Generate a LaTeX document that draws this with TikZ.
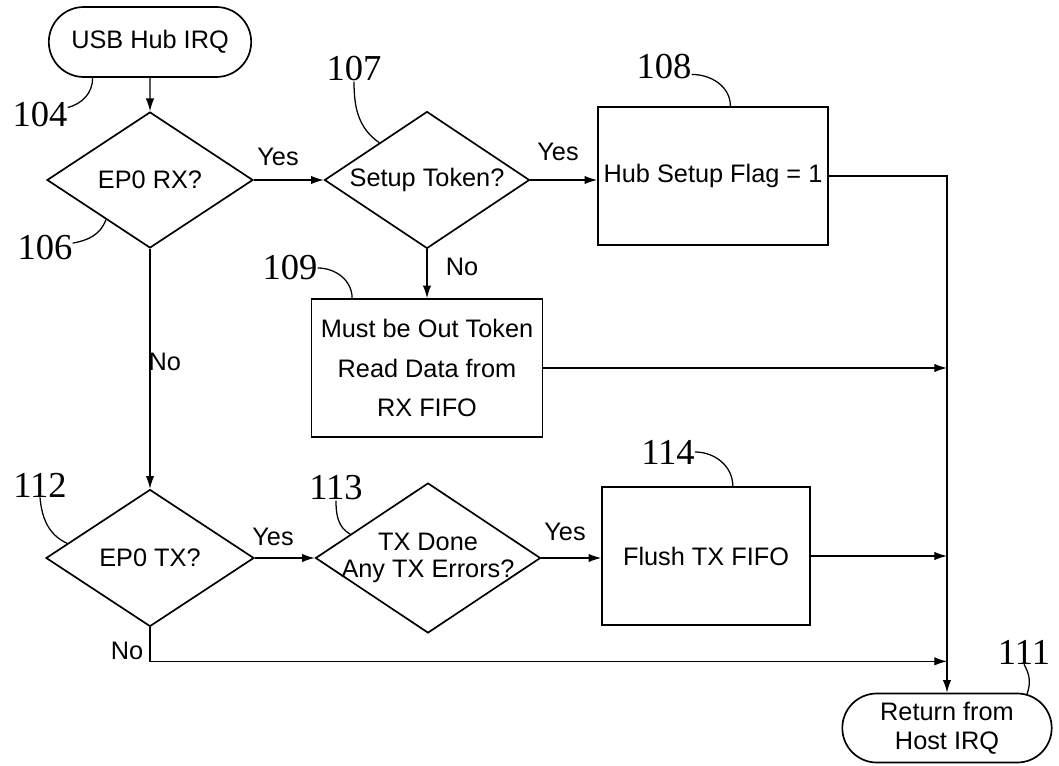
\documentclass[tikz,border=0pt]{standalone}
\usepackage{fontspec}
\setmainfont{Liberation Sans}
\newfontfamily\refnumfont{Liberation Serif}
\usetikzlibrary{shapes.geometric,shapes.misc,arrows.meta}

\begin{document}
\begin{tikzpicture}[scale=1.0, >={Latex[length=9pt,width=6pt]},
        every node/.style={font=\fontsize{18}{22}\selectfont},
        decision/.style={diamond, draw, line width=1.2pt, shape aspect=1.5, inner sep=0pt, align=center},
        process/.style={rectangle, draw, line width=1.2pt, inner sep=2pt, align=center},
        terminal/.style={rounded rectangle, draw, line width=1.2pt, inner sep=2pt, align=center},
        refnum/.style={font=\refnumfont\fontsize{26}{30}\selectfont, inner sep=0pt},
        flow/.style={line width=0.9pt},
        leader/.style={line width=0.9pt}]
        % Marco de la figura
        \useasboundingbox (0,0) rectangle (26.475,19.125);

        % Bloques del diagrama
        \node[terminal, minimum width=5.2cm, minimum height=1.75cm] (start) at (3.75,18.075) {USB Hub IRQ};
        \node[decision, minimum width=5.15cm, minimum height=3.4cm] (rx) at (3.75,14.625) {EP0 RX?};
        \node[decision, minimum width=5.125cm, minimum height=3.425cm] (setup) at (10.675,14.625) {Setup Token?};
        \node[process, minimum width=5.75cm, minimum height=3.45cm] (flag) at (17.825,14.725) {Hub Setup Flag = 1};
        \node[process, minimum width=5.775cm, minimum height=3.45cm, font=\fontsize{18}{28}\selectfont] (outtok) at (10.675,9.925)
            {Must be Out Token\\Read Data from\\RX FIFO};
        \node[decision, minimum width=5.2cm, minimum height=3.425cm] (tx) at (3.75,5.175) {EP0 TX?};
        \node[decision, minimum width=5.625cm, minimum height=3.75cm, inner sep=-6pt, font=\fontsize{18}{19}\selectfont] (txdone) at (10.7,5.175)
            {TX Done\\Any TX Errors?};
        \node[process, minimum width=5.2cm, minimum height=3.45cm] (flush) at (17.65,5.225) {Flush TX FIFO};
        \node[terminal, minimum width=5.375cm, minimum height=1.725cm, font=\fontsize{18}{21}\selectfont] (ret) at (23.675,0.925)
            {Return from\\Host IRQ};

        % Conectores
        \draw[flow,->] (start) -- (rx);
        \draw[flow,->] (rx.east) -- (setup.west);
        \draw[flow,->] (setup.east) -- (setup.east -| flag.west);
        \draw[flow,->] (setup) -- (outtok);
        \draw[flow,->] (rx) -- (tx);
        \draw[flow,->] (tx.east) -- (txdone.west);
        \draw[flow,->] (txdone.east) -- (txdone.east -| flush.west);
        \draw[flow,->] (flag.east) -| (ret.north);
        \foreach \b in {outtok,flush}
            \draw[flow,->] (\b.east) -- (\b.east -| ret.north);
        \draw[flow,->] (tx.south) -- ++(0,-0.85) coordinate (txno) -- (txno -| ret.north);

        % Etiquetas Yes / No
        \node at (6.95,15.2) {Yes};
        \node at (13.95,15.325) {Yes};
        \node at (11.55,12.45) {No};
        \node at (4.12,10.075) {No};
        \node at (6.825,5.7) {Yes};
        \node at (14.125,5.825) {Yes};
        \node at (3.175,2.85) {No};

        % Numeros de referencia
        \node[refnum] (n104) at (1.0,16.25) {104};
        \node[refnum] (n106) at (1.125,12.925) {106};
        \node[refnum] (n107) at (8.85,17.4) {107};
        \node[refnum] (n108) at (16.6,17.45) {108};
        \node[refnum] (n109) at (7.25,12.425) {109};
        \node[refnum] (n112) at (1.0,7.0) {112};
        \node[refnum] (n113) at (8.4,6.925) {113};
        \node[refnum] (n114) at (16.7,7.825) {114};
        \node[refnum] (n111) at (25.6,2.825) {111};

        % Lineas guia
        \draw[leader] (n104.15) to[out=15,in=-90] (start.212);
        \draw[leader] (n106.10) to[out=10,in=-110] (rx.222);
        \draw[leader] (n107.south) to[out=-90,in=145] (setup.142);
        \draw[leader] (n108.-15) to[out=0,in=90] (flag.76);
        \draw[leader] (n109.east) to[out=0,in=90] (outtok.137);
        \draw[leader] (n112.south) to[out=-85,in=155] (tx.170);
        \draw[leader] (n113.south) to[out=-90,in=150] (txdone.163);
        \draw[leader] (n114.east) to[out=0,in=90] (flush.69);
        \draw[leader] (n111.south) to[out=-60,in=70] (ret.23);
\end{tikzpicture}
\end{document}
